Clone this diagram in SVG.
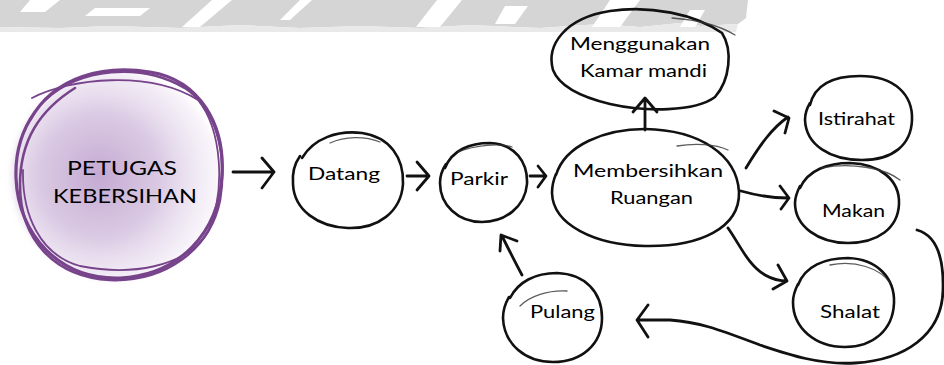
<svg xmlns="http://www.w3.org/2000/svg" width="944" height="365" viewBox="0 0 944 365">
  <style>
    .sk { fill: none; stroke: #111; stroke-width: 2.6; stroke-linecap: round; stroke-linejoin: round; }
    .sk2 { fill: none; stroke: #333; stroke-width: 1.3; stroke-linecap: round; opacity: 0.8; }
    .con { fill: none; stroke: #111; stroke-width: 2.8; stroke-linecap: round; stroke-linejoin: round; }
    .lbl { font-family: Lato, "Open Sans", "Liberation Sans", sans-serif; font-weight: 400; font-size: 18px; fill: #000; }
    .big { font-size: 20px; }
    .loop { fill: none; stroke: #77438b; stroke-linecap: round; }
    .wm { fill: #d5d5d5; }
  </style>
  <defs>
    <radialGradient id="wash" cx="0.42" cy="0.5" r="0.55">
      <stop offset="0" stop-color="#bd9fcd" stop-opacity="0.9"/>
      <stop offset="0.55" stop-color="#d2bedd" stop-opacity="0.8"/>
      <stop offset="1" stop-color="#ece2f1" stop-opacity="0.4"/>
    </radialGradient>
    <filter id="soft" x="-10%" y="-10%" width="120%" height="120%">
      <feGaussianBlur stdDeviation="3"/>
    </filter>
  </defs>

  <!-- faded banner band along the top edge -->
  <g id="banner">
    <path class="wm" d="M0,0 H748 L746,18 L738,24 L700,26 L690,22 L640,27 L600,24 L540,28 L470,25 L420,28 L360,26 L300,28 L240,25 L180,28 L110,26 L60,28 L0,27 Z"/>
    <path d="M0,27 L60,28 L110,26 L180,28 L240,25 L300,28 L360,26 L420,28 L470,25 L540,28 L600,24 L640,27 L690,22 L700,26 L738,24 L736,32 H0 Z" fill="#e9e9e9"/>
    <g fill="#fff">
      <path d="M30,0 H60 L45,12 H20 Z"/>
      <path d="M95,8 H150 L140,16 H85 Z"/>
      <path d="M212,0 H232 L200,27 H182 Z"/>
      <path d="M300,0 H312 L290,20 H280 Z"/>
      <path d="M437,0 H462 L440,27 H416 Z"/>
      <path d="M505,6 H528 L515,24 H495 Z"/>
      <path d="M610,0 H640 L620,27 H592 Z"/>
      <path d="M690,10 H705 L695,27 H680 Z"/>
    </g>
  </g>

  <!-- start node: purple scribbled circle -->
  <g id="petugas">
    <circle cx="116" cy="176" r="104" fill="url(#wash)" filter="url(#soft)"/>
    <path class="loop" stroke-width="3.2" d="M30,120 C55,75 105,65 150,72 C200,80 225,125 222,175 C219,232 180,275 120,278 C60,280 18,235 16,178 C15,150 22,130 35,112"/>
    <path class="loop" stroke-width="2.6" d="M45,100 C80,68 140,62 185,88 C215,108 228,150 220,200 C210,250 165,282 110,280 C55,277 20,240 20,185 C20,140 40,110 75,88"/>
    <path class="loop" stroke-width="1.8" d="M32,98 C70,78 150,70 198,100 C222,130 226,190 208,232 C185,268 130,276 80,266 C40,255 22,215 23,170"/>
    <text class="lbl big" x="67" y="175" textLength="110" lengthAdjust="spacingAndGlyphs">PETUGAS</text>
    <text class="lbl big" x="53" y="203" textLength="144" lengthAdjust="spacingAndGlyphs">KEBERSIHAN</text>
  </g>

  <g id="datang">
    <path class="sk" d="M302,158 C314,138 338,130 362,133 C390,137 404,158 403,184 C401,212 378,229 348,228 C318,227 294,210 293,184 C292,172 295,163 300,156"/>
    <path class="sk2" d="M330,143 C345,136 365,136 380,142"/>
    <text class="lbl" x="308" y="180" textLength="72" lengthAdjust="spacingAndGlyphs">Datang</text>
  </g>

  <g id="parkir">
    <path class="sk" d="M445,168 C452,150 470,143 490,143 C515,144 528,162 527,184 C525,207 505,222 482,222 C458,222 440,205 440,183 C440,175 442,170 446,164"/>
    <path class="sk2" d="M458,152 C475,145 500,143 512,147"/>
    <text class="lbl" x="450" y="185" textLength="58" lengthAdjust="spacingAndGlyphs">Parkir</text>
  </g>

  <g id="membersihkan">
    <path class="sk" d="M556,175 C565,145 605,129 645,129 C700,130 737,155 739,192 C740,228 700,247 645,246 C595,245 553,225 552,193 C552,186 553,181 556,174"/>
    <path class="sk2" d="M677,146 C695,143 715,144 728,150"/>
    <text class="lbl" x="573" y="177" textLength="150" lengthAdjust="spacingAndGlyphs">Membersihkan</text>
    <text class="lbl" x="610" y="204" textLength="83" lengthAdjust="spacingAndGlyphs">Ruangan</text>
  </g>

  <g id="kamar-mandi">
    <path class="sk" d="M553,70 C546,45 565,18 610,11 C650,5 695,14 722,33 C733,50 730,80 715,97 C695,112 645,112 610,104 C585,98 560,88 553,70"/>
    <path class="sk2" d="M672,18 C700,20 722,27 735,35"/>
    <text class="lbl" x="570" y="50" textLength="140" lengthAdjust="spacingAndGlyphs">Menggunakan</text>
    <text class="lbl" x="580" y="77" textLength="127" lengthAdjust="spacingAndGlyphs">Kamar mandi</text>
  </g>

  <g id="istirahat">
    <path class="sk" d="M810,105 C815,84 835,76 860,76 C895,76 913,95 912,120 C911,145 893,160 862,160 C830,160 806,145 805,120 C805,112 807,108 810,103"/>
    <text class="lbl" x="818" y="125" textLength="77" lengthAdjust="spacingAndGlyphs">Istirahat</text>
  </g>

  <g id="makan">
    <path class="sk" d="M800,188 C808,170 828,163 850,163 C880,164 900,180 899,204 C898,228 878,243 848,243 C818,243 795,226 795,203 C795,196 797,192 800,186"/>
    <path class="sk2" d="M822,168 C850,162 885,168 900,180"/>
    <text class="lbl" x="822" y="217" textLength="63" lengthAdjust="spacingAndGlyphs">Makan</text>
  </g>

  <g id="shalat">
    <path class="sk" d="M798,285 C805,266 825,258 848,258 C877,259 895,278 894,303 C893,330 873,347 845,347 C815,347 793,328 793,302 C793,295 795,290 798,284"/>
    <path class="sk2" d="M830,265 C855,260 880,268 890,283"/>
    <text class="lbl" x="820" y="318" textLength="60" lengthAdjust="spacingAndGlyphs">Shalat</text>
  </g>

  <g id="pulang">
    <path class="sk" d="M510,298 C518,282 535,273 557,273 C585,274 602,292 602,318 C602,344 582,362 553,362 C525,362 504,344 503,318 C503,310 505,304 509,297"/>
    <path class="sk2" d="M520,306 C530,296 548,290 567,291"/>
    <text class="lbl" x="530" y="318" textLength="65" lengthAdjust="spacingAndGlyphs">Pulang</text>
  </g>

  <g id="connectors">
    <!-- start -> Datang -->
    <path class="con" d="M233,172 L274,172 M262,158 L274,172 L262,188"/>
    <!-- Datang -> Parkir -->
    <path class="con" d="M407,176 L428,176 M417,162 L429,176 L417,190"/>
    <!-- Parkir -> Membersihkan -->
    <path class="con" d="M530,176 L545,176 M538,166 L546,176 L538,187"/>
    <!-- Membersihkan -> Kamar mandi -->
    <path class="con" d="M645,130 L645,99 M633,112 L645,98 L657,112"/>
    <!-- Membersihkan -> Istirahat -->
    <path class="con" d="M746,168 C760,145 772,128 788,117 M774,111 L789,118 L785,133"/>
    <!-- Membersihkan -> Makan -->
    <path class="con" d="M741,191 C755,195 770,198 788,198 M780,186 L789,198 L781,209"/>
    <!-- Membersihkan -> Shalat -->
    <path class="con" d="M728,228 C740,245 748,265 765,275 C772,279 780,281 787,281 M778,265 L787,281 L773,289"/>
    <!-- Makan -> Pulang (loop round the right side) -->
    <path class="con" d="M917,230 C935,235 944,255 943,290 C942,335 905,360 855,363 C820,365 790,355 760,345 C720,330 700,322 670,320 L638,320 M648,305 L637,320 L648,337"/>
    <!-- Pulang -> Parkir -->
    <path class="con" d="M522,275 C515,262 508,248 502,236 M500,251 L501,235 L517,241"/>
  </g>
</svg>
